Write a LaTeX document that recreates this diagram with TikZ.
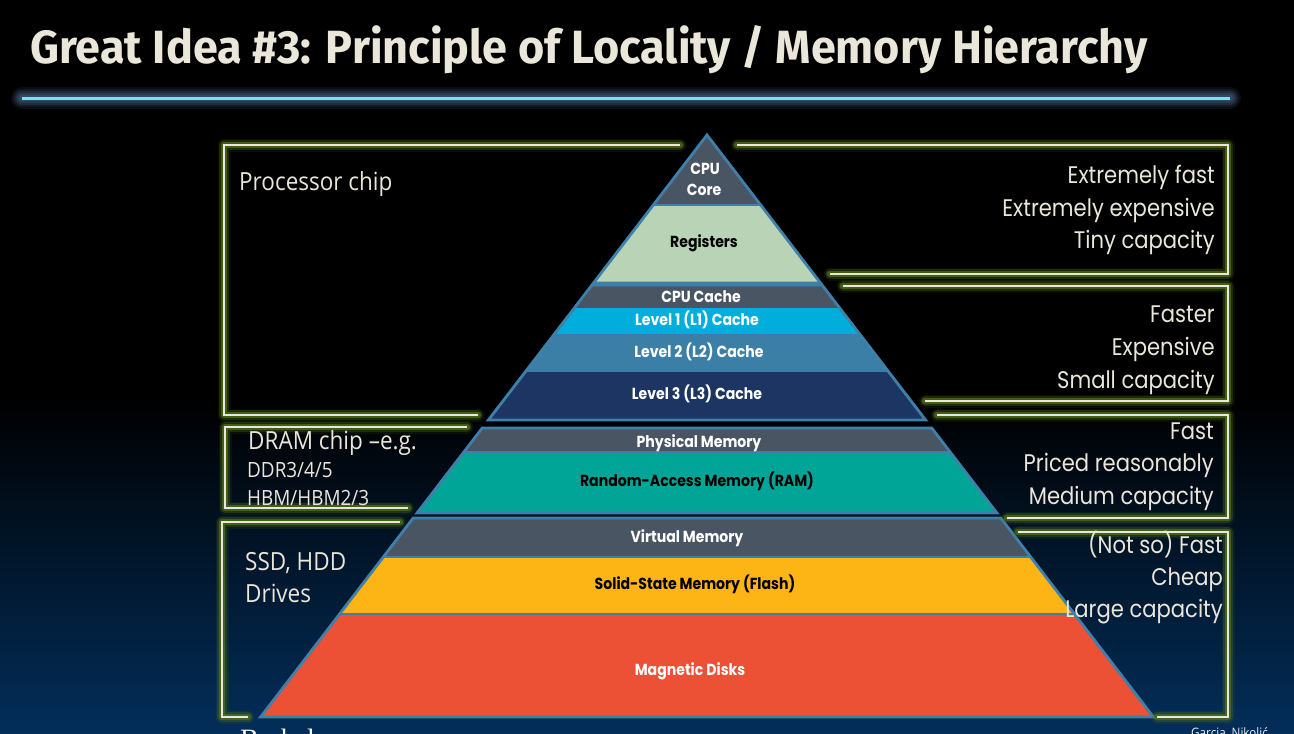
\documentclass[tikz,border=0pt]{standalone}
\usepackage{fontspec}
\usepackage{graphicx}
\setmainfont{Open Sans}
\newfontfamily\humfont[FakeStretch=0.9]{Open Sans}
\newfontfamily\geofont[FakeStretch=0.88]{Poppins}
\newfontfamily\lblfont[FakeStretch=0.88]{Poppins}
\newfontfamily\titlefont{Fira Sans}
\newfontfamily\serifont{Liberation Serif}

\definecolor{cream}{HTML}{EAE6DA}
\definecolor{glowgreen}{HTML}{52721A}
\definecolor{pyredge}{HTML}{3F80AB}
\definecolor{slate}{HTML}{4A5563}
\definecolor{regs}{HTML}{B8D3B6}
\definecolor{lone}{HTML}{00AEDB}
\definecolor{ltwo}{HTML}{3B7FA6}
\definecolor{lthree}{HTML}{1C3562}
\definecolor{ram}{HTML}{00A598}
\definecolor{flash}{HTML}{FDB515}
\definecolor{disk}{HTML}{EC5035}
\definecolor{cyanline}{HTML}{6EE6F3}
\definecolor{lineglow}{HTML}{3E5674}
\definecolor{navy}{HTML}{032E5A}

% pyramid: apex at (707,135), half-width grows 0.767 per unit of depth
\newcommand\pyrband[3]{%
  \fill[#3] ({707-0.767*(#1-135)},#1) -- ({707+0.767*(#1-135)},#1)
    -- ({707+0.767*(#2-135)},#2) -- ({707-0.767*(#2-135)},#2) -- cycle;}
\newcommand\pyrdivide[1]{%
  \draw[pyrline] ({707-0.767*(#1-135)},#1) -- ({707+0.767*(#1-135)},#1);}
\newcommand\pyrframe[2]{%
  \draw[pyrline] ({707-0.767*(#1-135)},#1) -- ({707+0.767*(#1-135)},#1)
    -- ({707+0.767*(#2-135)},#2) -- ({707-0.767*(#2-135)},#2) -- cycle;}

\tikzset{
  pyrline/.style={draw=pyredge, line width=2.8pt, line join=miter},
  glow/.style={
    preaction={draw=glowgreen, line width=13pt, draw opacity=.12, line cap=round, line join=round},
    preaction={draw=glowgreen, line width=9.5pt, draw opacity=.3, line cap=round, line join=round},
    preaction={draw=glowgreen, line width=6.5pt, draw opacity=.7, line cap=round, line join=round},
    draw=cream, line width=2.6pt, line join=miter},
  plab/.style={anchor=base, inner sep=0, text=white,
    font=\lblfont\bfseries\fontsize{16}{18}\selectfont},
  plabdark/.style={plab, text=black},
  rlab/.style={anchor=base east, inner sep=0, text=cream,
    font=\geofont\fontsize{24}{26}\selectfont},
  llab/.style={anchor=base west, inner sep=0, text=cream,
    font=\humfont\fontsize{25}{27}\selectfont},
  lsmall/.style={llab, font=\humfont\fontsize{21}{23}\selectfont},
}

\begin{document}
\begin{tikzpicture}[x=1pt,y=-1pt]
\useasboundingbox (0,0) rectangle (1294,734);

% background
\fill[black] (0,0) rectangle (1294,734);
\shade[top color=black, bottom color=navy] (0,400) rectangle (1294,734);

% title and rule beneath it
\node[anchor=base west, inner sep=0, text=cream] (title) at (30,63)
  {\resizebox{1117pt}{38pt}{\titlefont\bfseries Great Idea \#3: Principle of Locality / Memory Hierarchy}};
\coordinate (ruleL) at (22,98);
\coordinate (ruleR) at (1230,98);
\foreach \w/\o in {22/.15, 18/.2, 14/.3, 10/.4, 6/.5}
  \draw[lineglow, line width=\w pt, draw opacity=\o, line cap=round] (ruleL) -- (ruleR);
\draw[cyanline, line width=3pt] (ruleL) -- (ruleR);

% pyramid, top group: core and registers
\pyrband{135}{205}{slate}
\pyrband{205}{283}{regs}
\pyrdivide{205}
\pyrframe{135}{283}
% cache group
\pyrband{285}{308}{slate}
\pyrband{308}{334}{lone}
\pyrband{334}{372}{ltwo}
\pyrband{372}{420}{lthree}
\pyrframe{285}{420}
% main memory group
\pyrband{428}{452}{slate}
\pyrband{452}{513}{ram}
\pyrdivide{452}
\pyrframe{428}{513}
% storage group
\pyrband{518}{557}{slate}
\pyrband{557}{614}{flash}
\pyrband{614}{717}{disk}
\pyrdivide{557}
\pyrdivide{614}
\pyrframe{518}{717}

% pyramid labels
\node[plab] (cpu) at (705,174) {CPU};
\node[plab] (core) at (704,195.5) {Core};
\node[plabdark] (reg) at (704,247) {Registers};
\node[plab] (cache) at (701,302.5) {CPU Cache};
\node[plab] (lvl1) at (697,325.5) {Level 1 (L1) Cache};
\node[plab] (lvl2) at (699,357.5) {Level 2 (L2) Cache};
\node[plab] (lvl3) at (697,399) {Level 3 (L3) Cache};
\node[plab] (phys) at (699,447) {Physical Memory};
\node[plabdark] (rammem) at (697,486) {Random-Access Memory (RAM)};
\node[plab] (virt) at (687,542.5) {Virtual Memory};
\node[plabdark] (ssd) at (695,589) {Solid-State Memory (Flash)};
\node[plab] (mag) at (690,675) {Magnetic Disks};

% brackets on the left
\draw[glow] (680,145) -- (224,145) -- (224,415) -- (478,415);
\draw[glow] (467,427) -- (225,427) -- (225,508) -- (408,508);
\draw[glow] (400,522) -- (222,522) -- (222,717) -- (248,717);
% brackets on the right
\draw[glow] (737,145) -- (1228,145) -- (1228,274) -- (830,274);
\draw[glow] (843,286) -- (1228,286) -- (1228,401) -- (925,401);
\draw[glow] (937,415) -- (1228,415) -- (1228,518) -- (1007,518);
\draw[glow] (1018,532) -- (1228,532) -- (1228,717) -- (1157,717);

% left descriptions
\node[llab] (proc) at (239,190) {Processor chip};
\node[llab] (dram) at (248,449) {DRAM chip –e.g.};
\node[lsmall] (ddr) at (247,477.5) {DDR3/4/5};
\node[lsmall] (hbm) at (247,505) {HBM/HBM2/3};
\node[llab] (disks) at (245,570.5) {SSD, HDD};
\node[llab] (drives) at (245,602) {Drives};

% right descriptions
\node[rlab] (r1a) at (1215,183) {Extremely fast};
\node[rlab] (r1b) at (1215,216) {Extremely expensive};
\node[rlab] (r1c) at (1215,248) {Tiny capacity};
\node[rlab] (r2a) at (1215,322) {Faster};
\node[rlab] (r2b) at (1215,355) {Expensive};
\node[rlab] (r2c) at (1215,388) {Small capacity};
\node[rlab] (r3a) at (1214,439) {Fast};
\node[rlab] (r3b) at (1214,471) {Priced reasonably};
\node[rlab] (r3c) at (1214,504) {Medium capacity};
\node[rlab] (r4a) at (1223,553) {(Not so) Fast};
\node[rlab] (r4b) at (1223,585) {Cheap};
\node[rlab] (r4c) at (1223,617) {Large capacity};

% footer, running off the lower edge
\node[anchor=base west, inner sep=0, text=white!85!gray,
  font=\humfont\fontsize{13}{14}\selectfont] (credit) at (1191,737) {Garcia, Nikolić};
\node[anchor=base west, inner sep=0, text=white,
  font=\serifont\fontsize{28}{30}\selectfont] (brand) at (240,748) {Berkeley};
\end{tikzpicture}
\end{document}
